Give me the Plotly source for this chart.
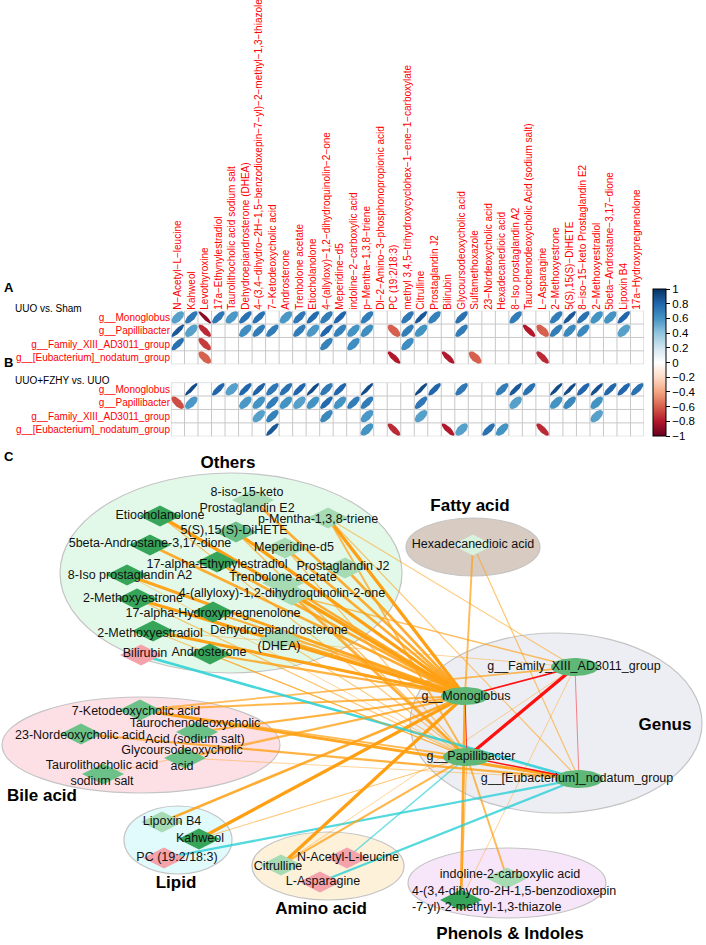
import numpy as np
import plotly.graph_objects as go
from plotly.colors import sample_colorscale

# ---------------- data ----------------
metabolites = [
    "N-Acetyl-L-leucine", "Kahweol", "Levothyroxine", "17a-Ethynylestradiol",
    "Taurolithocholic acid sodium salt", "Dehydroepiandrosterone (DHEA)",
    "4-(3,4-dihydro-2H-1,5-benzodioxepin-7-yl)-2-methyl-1,3-thiazole",
    "7-Ketodeoxycholic acid", "Androsterone", "Trenbolone acetate", "Etiocholanolone",
    "4-(allyloxy)-1,2-dihydroquinolin-2-one", "Meperidine-d5", "indoline-2-carboxylic acid",
    "p-Mentha-1,3,8-triene", "Dl-2-Amino-3-phosphonopropionic acid", "PC (19:2/18:3)",
    "methyl 3,4,5-trihydroxycyclohex-1-ene-1-carboxylate", "Citrulline", "Prostaglandin J2",
    "Bilirubin", "Glycoursodeoxycholic acid", "Sulfamethoxazole", "23-Nordeoxycholic acid",
    "Hexadecanedioic acid", "8-Iso prostaglandin A2", "Taurochenodeoxycholic Acid (sodium salt)",
    "L-Asparagine", "2-Methoxyestrone", "5(S),15(S)-DiHETE", "8-iso-15-keto Prostaglandin E2",
    "2-Methoxyestradiol", "5beta-Androstane-3,17-dione", "Lipoxin B4", "17a-Hydroxypregnenolone",
]
genera = ["g__Monoglobus", "g__Papillibacter", "g__Family_XIII_AD3011_group",
          "g__[Eubacterium]_nodatum_group"]

# UUO vs. Sham (0 = not shown)
sham_monoglobus = [0.55, 0.72, -0.9, 0.72, 0.58, 0.75, 0.75, 0, 0.58, 0.72, 0.78, 0.7, 0.8, 0, 0.7, 0, 0,
                   0.72, 0.85, 0.68, 0, 0.75, 0, 0, 0, 0.7, 0, 0, 0.7, 0.85, 0.75, 0.6, 0.6, 0.8, 0]
sham_papillibacter = [0.85, 0.55, -0.75, 0, 0, 0.62, 0.7, 0.7, 0, 0.7, 0.58, 0.8, 0.68, 0.6, 0.62, 0, -0.6,
                      0.7, 0.6, 0, 0, 0.7, 0, 0, 0, 0, -0.8, -0.6, 0.7, 0.65, 0.65, 0, 0, 0.55, 0]
sham_family = [0.75, 0, -0.7, 0, 0, 0, 0, 0, 0, 0, 0, 0.68, 0, 0.62, 0, 0, 0,
               0.62, 0, 0, 0, 0, 0, 0, 0, 0, 0, 0, 0, 0, 0, 0, 0, 0, 0]
sham_eubacterium = [0, 0, -0.6, 0, 0, 0, 0, 0, 0, 0, 0, 0, 0, 0, 0, 0, -0.8,
                    0, 0, 0, -0.8, 0, -0.6, 0, 0, 0, 0, -0.75, 0, 0, 0, 0, 0, 0, 0]

# UUO+FZHY vs. UUO
fzhy_monoglobus = [0, 0.9, 0, 0.8, 0.55, 0.8, 0.82, 0.72, 0.75, 0.8, 0.9, 0.72, 0.8, 0, 0.9, 0, 0,
                   0, 0.9, 0.8, 0, 0.72, 0, 0, 0.7, 0.85, 0.75, 0, 0.9, 0.9, 0.8, 0.88, 0.8, 0.8, 0.75]
fzhy_papillibacter = [-0.65, 0.58, 0, 0, 0, 0.58, 0.6, 0.7, 0.6, 0.55, 0.6, 0.78, 0.6, 0.7, 0.7, 0, 0,
                      0, 0.72, 0, 0, 0, 0, 0, 0, 0.55, 0, 0, 0.6, 0.65, 0, 0.6, 0, 0, 0]
fzhy_family = [0, 0, 0, 0, 0, 0, 0.55, 0.68, 0, 0, 0, 0.65, 0, 0, 0.58, 0, 0,
               0, 0.55, 0, 0, 0, 0, 0, 0, 0, 0, 0, 0, 0, 0, 0.55, 0, 0, 0]
fzhy_eubacterium = [0, 0, 0, 0, 0, 0, 0, 0.85, 0, 0, 0, 0, 0, 0, 0.6, 0, -0.75,
                    0, 0, 0, -0.8, 0.55, 0, 0.75, 0.6, 0, 0, -0.75, 0, 0, 0, 0, 0, 0, 0]

sham_matrix = [sham_monoglobus, sham_papillibacter, sham_family, sham_eubacterium]
fzhy_matrix = [fzhy_monoglobus, fzhy_papillibacter, fzhy_family, fzhy_eubacterium]

# network labels for each metabolite (None = not in network)
network_labels = [
    "N-Acetyl-L-leucine", "Kahweol", None, "17-alpha-Ethynylestradiol",
    "Taurolithocholic acid<br>sodium salt", "Dehydroepiandrosterone<br>(DHEA)",
    "4-(3,4-dihydro-2H-1,5-benzodioxepin<br>-7-yl)-2-methyl-1,3-thiazole",
    "7-Ketodeoxycholic acid", "Androsterone", "Trenbolone acetate", "Etiocholanolone",
    "4-(allyloxy)-1,2-dihydroquinolin-2-one", "Meperidine-d5", "indoline-2-carboxylic acid",
    "p-Mentha-1,3,8-triene", None, "PC (19:2/18:3)", None, "Citrulline", "Prostaglandin J2",
    "Bilirubin", "Glycoursodeoxycholic<br>acid", None, "23-Nordeoxycholic acid",
    "Hexadecanedioic acid", "8-Iso prostaglandin A2", "Taurochenodeoxycholic<br>Acid (sodium salt)",
    "L-Asparagine", "2-Methoxyestrone", "5(S),15(S)-DiHETE", "8-iso-15-keto<br>Prostaglandin E2",
    "2-Methoxyestradiol", "5beta-Androstane-3,17-dione", "Lipoxin B4", "17-alpha-Hydroxypregnenolone",
]
# genus-genus correlations
genus_links = [("g__Monoglobus", "g__Family_XIII_AD3011_group", 0.65),
               ("g__Papillibacter", "g__Family_XIII_AD3011_group", 0.9),
               ("g__Monoglobus", "g__Papillibacter", 0.55),
               ("g__Family_XIII_AD3011_group", "g__[Eubacterium]_nodatum_group", 0.5),
               ("g__Papillibacter", "g__[Eubacterium]_nodatum_group", 0.62)]

groups = ["Others", "Fatty acid", "Genus", "Bile acid", "Lipid", "Amino acid", "Phenols & Indoles"]

# ---------------- layout / style ----------------
W, H = 706, 945
FONT = "Liberation Sans, Arial, sans-serif"
corr_scale = [[0.0, "#67001F"], [0.1, "#B2182B"], [0.2, "#D6604D"], [0.3, "#F4A582"],
              [0.4, "#FDDBC7"], [0.5, "#FFFFFF"], [0.6, "#D1E5F0"], [0.7, "#92C5DE"],
              [0.8, "#4393C3"], [0.9, "#2166AC"], [1.0, "#053061"]]

grid_left, grid_right = 171, 644
A_top, A_bot = 310.7, 364.2
B_top, B_bot = 382.6, 436.3

def px_y(y):
    return 1 - y / H

# node layout (pixel coordinates of network panel)
node_xy = {
    "g__Monoglobus": (465, 696), "g__Papillibacter": (467, 757),
    "g__Family_XIII_AD3011_group": (575, 667), "g__[Eubacterium]_nodatum_group": (579, 779),
    "Etiocholanolone": (160, 516), "8-iso-15-keto<br>Prostaglandin E2": (253, 500),
    "5(S),15(S)-DiHETE": (236, 532), "p-Mentha-1,3,8-triene": (328, 518),
    "5beta-Androstane-3,17-dione": (150, 545), "Meperidine-d5": (285, 548),
    "17-alpha-Ethynylestradiol": (217, 562), "Prostaglandin J2": (345, 568),
    "8-Iso prostaglandin A2": (127, 575), "Trenbolone acetate": (283, 583),
    "4-(allyloxy)-1,2-dihydroquinolin-2-one": (292, 595), "2-Methoxyestrone": (137, 599),
    "17-alpha-Hydroxypregnenolone": (213, 612), "2-Methoxyestradiol": (153, 631),
    "Dehydroepiandrosterone<br>(DHEA)": (280, 639), "Bilirubin": (141, 655),
    "Androsterone": (210, 654), "Hexadecanedioic acid": (473, 545),
    "7-Ketodeoxycholic acid": (140, 710), "Taurochenodeoxycholic<br>Acid (sodium salt)": (197, 732),
    "23-Nordeoxycholic acid": (81, 734), "Glycoursodeoxycholic<br>acid": (185, 758),
    "Taurolithocholic acid<br>sodium salt": (103, 774), "Lipoxin B4": (162, 822),
    "Kahweol": (199, 839), "PC (19:2/18:3)": (164, 858), "N-Acetyl-L-leucine": (347, 858),
    "Citrulline": (281, 865), "L-Asparagine": (320, 882), "indoline-2-carboxylic acid": (507, 878),
    "4-(3,4-dihydro-2H-1,5-benzodioxepin<br>-7-yl)-2-methyl-1,3-thiazole": (461, 900),
}
label_xy = {
    "g__Monoglobus": (466, 697), "g__Papillibacter": (471, 757),
    "g__Family_XIII_AD3011_group": (574, 667), "g__[Eubacterium]_nodatum_group": (577, 779),
    "8-iso-15-keto<br>Prostaglandin E2": (247, 501), "p-Mentha-1,3,8-triene": (318, 520),
    "Meperidine-d5": (294, 548), "Prostaglandin J2": (343, 567), "8-Iso prostaglandin A2": (130, 576),
    "4-(allyloxy)-1,2-dihydroquinolin-2-one": (282, 594), "2-Methoxyestrone": (133, 599),
    "2-Methoxyestradiol": (150, 634), "Bilirubin": (145, 654), "Androsterone": (209, 653),
    "7-Ketodeoxycholic acid": (136, 712), "Taurochenodeoxycholic<br>Acid (sodium salt)": (195, 732),
    "23-Nordeoxycholic acid": (80, 736), "Glycoursodeoxycholic<br>acid": (182, 759),
    "Taurolithocholic acid<br>sodium salt": (102, 774), "Lipoxin B4": (172, 822),
    "Kahweol": (200, 839), "PC (19:2/18:3)": (177, 858), "N-Acetyl-L-leucine": (348, 858),
    "Citrulline": (278, 867), "L-Asparagine": (323, 882), "indoline-2-carboxylic acid": (510, 875),
    "4-(3,4-dihydro-2H-1,5-benzodioxepin<br>-7-yl)-2-methyl-1,3-thiazole": (412, 900),
    "Dehydroepiandrosterone<br>(DHEA)": (279, 639), "5(S),15(S)-DiHETE": (234, 531),
    "5beta-Androstane-3,17-dione": (150, 544), "17-alpha-Ethynylestradiol": (217, 565),
    "Trenbolone acetate": (283, 578), "17-alpha-Hydroxypregnenolone": (213, 614),
}
DARK, MED, LIGHT, PALE, PINK = "#36a55a", "#6cc189", "#a6dbb4", "#d8f2de", "#f4a3ab"
node_shade = {
    "Etiocholanolone": DARK, "5beta-Androstane-3,17-dione": DARK, "17-alpha-Ethynylestradiol": DARK,
    "8-Iso prostaglandin A2": DARK, "2-Methoxyestrone": DARK, "17-alpha-Hydroxypregnenolone": DARK,
    "2-Methoxyestradiol": DARK, "Androsterone": DARK, "Kahweol": DARK,
    "4-(3,4-dihydro-2H-1,5-benzodioxepin<br>-7-yl)-2-methyl-1,3-thiazole": DARK,
    "5(S),15(S)-DiHETE": MED, "23-Nordeoxycholic acid": MED, "Taurolithocholic acid<br>sodium salt": MED,
    "Glycoursodeoxycholic<br>acid": MED, "7-Ketodeoxycholic acid": MED,
    "Taurochenodeoxycholic<br>Acid (sodium salt)": MED, "Hexadecanedioic acid": PALE,
    "Bilirubin": PINK, "PC (19:2/18:3)": PINK, "N-Acetyl-L-leucine": PINK, "L-Asparagine": PINK,
}
group_shapes = {  # cx, cy, rx, ry, fill
    "Others": (231, 573, 171, 100, "#e2f9e9"), "Fatty acid": (473, 547, 67, 29, "#d7cbc2"),
    "Genus": (556, 723, 146, 90, "#edeef3"), "Bile acid": (141, 745, 139, 48, "#fde0e6"),
    "Lipid": (178, 840, 54, 34, "#e1fafc"), "Amino acid": (328, 866, 76, 34, "#fdf1da"),
    "Phenols & Indoles": (507, 883, 99, 35, "#f7e5f9"),
}
group_label_xy = {"Others": (228, 464), "Fatty acid": (470, 507), "Genus": (665, 726),
                  "Bile acid": (42, 797), "Lipid": (176, 884), "Amino acid": (321, 910),
                  "Phenols & Indoles": (510, 935)}

fig = go.Figure()

# ---------------- heatmaps ----------------
def add_corr_panel(matrix, xa, ya):
    for i, row in enumerate(matrix):
        for j, r in enumerate(row):
            if r == 0:
                continue
            d = np.arccos(r)
            t = np.linspace(0, 2 * np.pi, 48)
            s = 0.93
            ex = (j + 1) + 0.5 * s * np.cos(t + d / 2)
            ey = (i + 1) - 0.5 * s * np.cos(t - d / 2)
            col = sample_colorscale(corr_scale, [(r + 1) / 2])[0]
            fig.add_trace(go.Scatter(x=ex, y=ey, mode="lines", fill="toself", fillcolor=col,
                                     line=dict(width=0, color=col), hoverinfo="skip",
                                     showlegend=False, xaxis=xa, yaxis=ya))
    nr, nc = len(matrix), len(matrix[0])
    for k in range(nc + 1):
        fig.add_shape(type="line", x0=k + 0.5, x1=k + 0.5, y0=0.5, y1=nr + 0.5, xref=xa, yref=ya,
                      line=dict(color="#c8c8c8", width=1), layer="below")
    for k in range(nr + 1):
        fig.add_shape(type="line", x0=0.5, x1=nc + 0.5, y0=k + 0.5, y1=k + 0.5, xref=xa, yref=ya,
                      line=dict(color="#c8c8c8", width=1), layer="below")

add_corr_panel(sham_matrix, "x", "y")
add_corr_panel(fzhy_matrix, "x2", "y2")

# colorbar
fig.add_trace(go.Scatter(x=[1], y=[1], mode="markers", xaxis="x", yaxis="y", hoverinfo="skip",
                         showlegend=False,
                         marker=dict(size=1, opacity=0, color=[0], cmin=-1, cmax=1,
                                     colorscale=corr_scale, showscale=True,
                                     colorbar=dict(x=653 / W, xanchor="left", xpad=0, ypad=0,
                                                   y=px_y(289), yanchor="top", lenmode="pixels",
                                                   len=147, thickness=13, outlinewidth=1,
                                                   outlinecolor="black", ticks="outside", ticklen=4,
                                                   tickcolor="black",
                                                   tickvals=[-1, -0.8, -0.6, -0.4, -0.2, 0, 0.2, 0.4, 0.6, 0.8, 1],
                                                   ticktext=["\u22121", "\u22120.8", "\u22120.6", "\u22120.4", "\u22120.2", "0",
                                                             "0.2", "0.4", "0.6", "0.8", "1"],
                                                   tickfont=dict(size=11.5, color="black", family=FONT)))))

col_text = [m.replace("-", "\u2212") for m in metabolites]
xdom = [grid_left / W, grid_right / W]
common_x = dict(range=[0.5, len(metabolites) + 0.5], showgrid=False, zeroline=False, ticks="",
                automargin=False, fixedrange=True)
common_y = dict(range=[len(genera) + 0.5, 0.5], showgrid=False, zeroline=False, ticks="",
                tickvals=list(range(1, len(genera) + 1)), ticktext=genera,
                tickfont=dict(size=10, color="#ff0000", family=FONT), automargin=False)

# ---------------- network ----------------
metab_nodes = []
for j, lab in enumerate(network_labels):
    if lab is None:
        continue
    metab_nodes.append(lab)
    for g, gname in enumerate(genera):
        r = fzhy_matrix[g][j]
        if r == 0:
            continue
        x0, y0 = node_xy[lab]
        x1, y1 = node_xy[gname]
        a = min(1.0, 0.45 + (abs(r) - 0.5) * 1.4)
        colr = f"rgba(255,160,20,{a:.2f})" if r > 0 else f"rgba(40,208,214,{a:.2f})"
        fig.add_trace(go.Scatter(x=[x0, x1], y=[y0, y1], mode="lines",
                                 line=dict(color=colr, width=0.5 + (abs(r) - 0.5) * 7),
                                 hoverinfo="skip", showlegend=False, xaxis="x3", yaxis="y3"))
for a_, b_, r in genus_links:
    x0, y0 = node_xy[a_]
    x1, y1 = node_xy[b_]
    fig.add_trace(go.Scatter(x=[x0, x1], y=[y0, y1], mode="lines",
                             line=dict(color="#ff1010", width=0.5 + (abs(r) - 0.5) * 7),
                             hoverinfo="skip", showlegend=False, xaxis="x3", yaxis="y3"))

# genus nodes (green ellipses)
for gname in genera:
    cx, cy = node_xy[gname]
    t = np.linspace(0, 2 * np.pi, 60)
    fig.add_trace(go.Scatter(x=cx + 24 * np.cos(t), y=cy + 9 * np.sin(t), mode="lines", fill="toself",
                             fillcolor="#5fb877", line=dict(width=0, color="#5fb877"),
                             hoverinfo="skip", showlegend=False, xaxis="x3", yaxis="y3"))

# metabolite nodes (diamonds)
fig.add_trace(go.Scatter(x=[node_xy[n][0] for n in metab_nodes], y=[node_xy[n][1] for n in metab_nodes],
                         mode="markers", hoverinfo="skip", showlegend=False, xaxis="x3", yaxis="y3",
                         marker=dict(symbol="diamond-wide", size=30,
                                     color=[node_shade.get(n, LIGHT) for n in metab_nodes],
                                     line=dict(width=0))))

# node labels
all_labels = metab_nodes + genera
fig.add_trace(go.Scatter(x=[label_xy.get(n, node_xy[n])[0] for n in all_labels],
                         y=[label_xy.get(n, node_xy[n])[1] for n in all_labels],
                         text=all_labels, mode="text",
                         textposition=["middle right" if n.startswith("4-(3,4") else "middle center"
                                       for n in all_labels],
                         textfont=dict(size=12.5, color="#111111", family=FONT),
                         hoverinfo="skip", showlegend=False, xaxis="x3", yaxis="y3"))
# group labels
fig.add_trace(go.Scatter(x=[group_label_xy[g][0] for g in groups], y=[group_label_xy[g][1] for g in groups],
                         text=["<b>%s</b>" % g for g in groups], mode="text", textposition="middle center",
                         textfont=dict(size=17, color="black", family=FONT),
                         hoverinfo="skip", showlegend=False, xaxis="x3", yaxis="y3"))

for g in groups:
    cx, cy, rx, ry, fc = group_shapes[g]
    fig.add_shape(type="circle", xref="x3", yref="y3", x0=cx - rx, x1=cx + rx, y0=cy - ry, y1=cy + ry,
                  fillcolor=fc, line=dict(color="#c4c4c4", width=1.2), layer="below")

annotations = [
    dict(text="<b>A</b>", x=2 / W, y=px_y(287)), dict(text="<b>B</b>", x=2 / W, y=px_y(362)),
    dict(text="<b>C</b>", x=2 / W, y=px_y(456)),
    dict(text="UUO vs. Sham", x=13 / W, y=px_y(309), size=10),
    dict(text="UUO+FZHY vs. UUO", x=13 / W, y=px_y(380), size=10),
]
ann = []
for a_ in annotations:
    ann.append(dict(text=a_["text"], x=a_["x"], y=a_["y"], xref="paper", yref="paper", xanchor="left",
                    yanchor="middle", showarrow=False,
                    font=dict(size=a_.get("size", 13), color="black", family=FONT)))

net_top = 450
fig.update_layout(
    template="none", width=W, height=H, margin=dict(l=0, r=0, t=0, b=0),
    paper_bgcolor="white", plot_bgcolor="rgba(0,0,0,0)", font=dict(family=FONT),
    showlegend=False, annotations=ann,
    xaxis=dict(domain=xdom, anchor="y", side="top", tickvals=list(range(1, len(metabolites) + 1)),
               ticktext=col_text, tickangle=-90, tickfont=dict(size=10, color="#ff0000", family=FONT),
               **common_x),
    yaxis=dict(domain=[px_y(A_bot), px_y(A_top)], anchor="x", **common_y),
    xaxis2=dict(domain=xdom, anchor="y2", showticklabels=False, **common_x),
    yaxis2=dict(domain=[px_y(B_bot), px_y(B_top)], anchor="x2", **common_y),
    xaxis3=dict(domain=[0, 1], anchor="y3", range=[0, W], showgrid=False, zeroline=False,
                showticklabels=False, ticks="", automargin=False),
    yaxis3=dict(domain=[0, px_y(net_top)], anchor="x3", range=[H, net_top], showgrid=False,
                zeroline=False, showticklabels=False, ticks="", automargin=False),
)

fig.write_html("out.html", config={"displayModeBar": False, "staticPlot": True},
               post_script="document.body.style.margin='0';document.body.style.overflow='hidden';")
